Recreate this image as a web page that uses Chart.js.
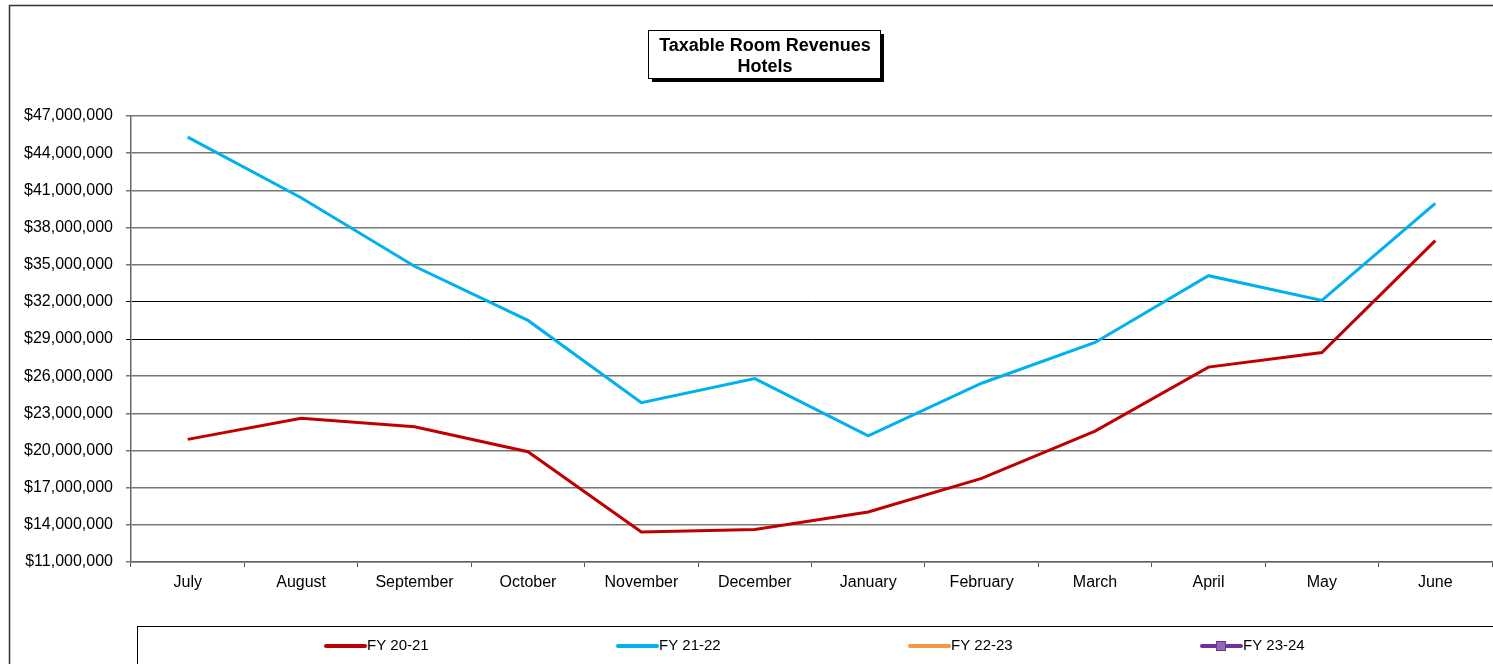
<!DOCTYPE html>
<html>
<head>
<meta charset="utf-8">
<script src="https://cdn.jsdelivr.net/npm/chart.js@4/dist/chart.umd.min.js"></script>
<style>
  html, body { margin: 0; padding: 0; background: #fff; overflow: hidden; }
  #wrap { position: relative; width: 1493px; height: 664px; }
</style>
</head>
<body>
<div id="wrap"><canvas id="revenues"></canvas></div>
<script>
// values
const months = ['July', 'August', 'September', 'October', 'November', 'December',
    'January', 'February', 'March', 'April', 'May', 'June'];
const fy2021 = [20900000, 22600000, 21920000, 19900000, 13430000, 13620000,
    15040000, 17750000, 21570000, 26730000, 27910000, 36940000];
const fy2122 = [45300000, 40400000, 34870000, 30500000, 23860000, 25800000,
    21190000, 25430000, 28720000, 34110000, 32110000, 39940000];
const fy2223 = [];
const fy2324 = [];
const seriesLabels = ['FY 20-21', 'FY 21-22', 'FY 22-23', 'FY 23-24'];
const seriesColors = ['#C00000', '#00B0F0', '#F79646', '#7030A0'];
const titleLines = ['Taxable Room Revenues', 'Hotels'];
const yMin = 11000000;
const yMax = 47000000;
const yStep = 3000000;

const fontFamily = '"Liberation Sans", Arial, sans-serif';
Chart.defaults.font.family = fontFamily;
Chart.defaults.color = '#000';

const chartFrame = {
    id: 'chartFrame',
    beforeDraw(chart) {
        const ctx = chart.ctx;
        ctx.save();
        ctx.fillStyle = '#fff';
        ctx.fillRect(0, 0, chart.width, chart.height);
        ctx.strokeStyle = '#333';
        ctx.lineWidth = 1.5;
        ctx.strokeRect(9.5, 5.5, chart.width + 20, chart.height + 20);
        ctx.restore();
    }
};

const titleBox = {
    id: 'titleBox',
    afterDraw(chart) {
        const ctx = chart.ctx;
        const x = 648, y = 30, w = 232, h = 48;
        ctx.save();
        ctx.fillStyle = '#000';
        ctx.fillRect(x + 4, y + 4, w, h);
        ctx.fillStyle = '#fff';
        ctx.fillRect(x, y, w, h);
        ctx.strokeStyle = '#000';
        ctx.lineWidth = 1;
        ctx.strokeRect(x + 0.5, y + 0.5, w, h);
        ctx.font = 'bold 18px ' + fontFamily;
        ctx.textAlign = 'center';
        ctx.textBaseline = 'middle';
        ctx.fillStyle = '#000';
        ctx.fillText(titleLines[0], x + w / 2 + 1, 46);
        ctx.fillText(titleLines[1], x + w / 2 + 1, 67);
        ctx.restore();
    }
};

const boxLegend = {
    id: 'boxLegend',
    afterDraw(chart) {
        const ctx = chart.ctx;
        ctx.save();
        ctx.strokeStyle = '#000';
        ctx.lineWidth = 1;
        ctx.strokeRect(137.5, 626.5, chart.width, 80);
        ctx.font = '15px ' + fontFamily;
        ctx.textBaseline = 'middle';
        ctx.textAlign = 'left';
        const cy = 646;
        chart.data.datasets.forEach(function (ds, i) {
            const x0 = 326 + i * 292;
            ctx.strokeStyle = ds.borderColor;
            ctx.lineWidth = 4;
            ctx.lineCap = 'round';
            ctx.beginPath();
            ctx.moveTo(x0, cy);
            ctx.lineTo(x0 + 39, cy);
            ctx.stroke();
            if (ds.pointStyle === 'rect') {
                ctx.fillStyle = '#8C6BB1';
                ctx.strokeStyle = ds.borderColor;
                ctx.lineWidth = 1;
                ctx.fillRect(x0 + 14, cy - 5, 10, 10);
                ctx.strokeRect(x0 + 14.5, cy - 4.5, 9, 9);
            }
            ctx.fillStyle = '#000';
            ctx.fillText(ds.label, x0 + 41, cy);
        });
        ctx.restore();
    }
};

function series(i, data, extra) {
    return Object.assign({
        label: seriesLabels[i],
        data: data,
        borderColor: seriesColors[i],
        backgroundColor: seriesColors[i],
        borderWidth: 3,
        pointRadius: 0,
        tension: 0,
        fill: false
    }, extra || {});
}

new Chart(document.getElementById('revenues'), {
    type: 'line',
    data: {
        labels: months,
        datasets: [
            series(0, fy2021),
            series(1, fy2122),
            series(2, fy2223),
            series(3, fy2324, { pointStyle: 'rect', pointRadius: 4, backgroundColor: '#8C6BB1' })
        ]
    },
    options: {
        responsive: true,
        maintainAspectRatio: false,
        animation: false,
        devicePixelRatio: 1,
        layout: { padding: { top: 116, right: 1, bottom: 0, left: 0 } },
        plugins: {
            legend: { display: false },
            title: { display: false },
            tooltip: { enabled: false }
        },
        scales: {
            x: {
                offset: true,
                grid: {
                    offset: true,
                    drawOnChartArea: false,
                    drawTicks: true,
                    tickLength: 5,
                    color: '#555'
                },
                border: { color: '#666', width: 1.5 },
                ticks: {
                    padding: 6,
                    maxRotation: 0,
                    autoSkip: false,
                    font: { size: 16 },
                    color: '#000'
                },
                afterFit(scale) { scale.height = 102; }
            },
            y: {
                min: yMin,
                max: yMax,
                grid: {
                    tickLength: 5,
                    color(c) {
                        const v = c.tick ? c.tick.value : 0;
                        return (v === 32000000 || v === 29000000) ? '#000' : '#777';
                    },
                    lineWidth(c) {
                        const v = c.tick ? c.tick.value : 0;
                        return (v === 32000000 || v === 29000000) ? 1 : 1.5;
                    }
                },
                border: { color: '#666', width: 1.5 },
                ticks: {
                    stepSize: yStep,
                    padding: 13,
                    font: { size: 16 },
                    color: '#000',
                    callback(value) {
                        return '$' + Number(value).toLocaleString('en-US');
                    }
                },
                afterFit(scale) { scale.width = 131; }
            }
        }
    },
    plugins: [chartFrame, titleBox, boxLegend]
});
</script>
</body>
</html>
